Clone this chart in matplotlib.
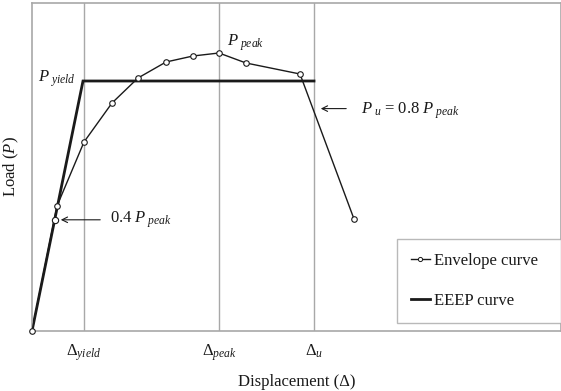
import numpy as np
import matplotlib.pyplot as plt
from matplotlib.lines import Line2D

plt.rcParams['font.family'] = ['Liberation Serif', 'DejaVu Serif']
plt.rcParams['mathtext.fontset'] = 'custom'
plt.rcParams['mathtext.rm'] = 'Liberation Serif'
plt.rcParams['mathtext.it'] = 'Liberation Serif:italic'

# Datos (unidades arbitrarias)
env_x = [0, 2.5, 5.2, 8.0, 10.6, 13.4, 16.1, 18.7, 21.4, 26.8, 32.2]
env_y = [0, 12.5, 18.9, 22.8, 25.3, 26.9, 27.5, 27.8, 26.8, 25.7, 11.2]

eeep_x = [0, 5.1, 28.2]
eeep_y = [0, 25.0, 25.0]

d_yield = 5.2
d_peak = 18.7
d_u = 28.2
p_peak = 27.8
p_yield = 25.0
p_u = 0.8 * p_peak
p_04 = 0.4 * p_peak
d_04 = 2.3

tick_pos = [d_yield, d_peak, d_u]
tick_labels = [r'$\Delta_{yield}$', r'$\Delta_{peak}$', r'$\Delta_u$']

ink = '#1a1a1a'
gris = '#a8a8a8'

fig = plt.figure(figsize=(5.61, 3.91), dpi=100)
ax = fig.add_axes([32 / 561, 60 / 391, 529 / 561, 328 / 391])

# Lineas verticales de referencia
for d in tick_pos:
    ax.axvline(d, color=gris, lw=1.0, zorder=1)

# Curvas
ax.plot(eeep_x, eeep_y, color=ink, lw=2.0, zorder=2, solid_joinstyle='miter')
ax.plot(env_x, env_y, color=ink, lw=1.0, marker='o', ms=4, mfc='white',
        mec=ink, mew=0.8, zorder=3, clip_on=False)
ax.plot([d_04], [p_04], ls='none', marker='o', ms=4.5, mfc='white', mec=ink,
        mew=0.8, zorder=4)

# Anotaciones
ax.text(4.4, p_yield + 0.2, r'$P_{\ yield}$', fontsize=12, ha='right', va='center', color=ink)
ax.text(19.5, 28.8, r'$P_{\ peak}$', fontsize=12, ha='left', va='center', color=ink)

ax.annotate('', xy=(d_04 + 0.3, p_04), xytext=(7.1, p_04),
            arrowprops=dict(arrowstyle='->', color=ink, lw=0.8))
ax.text(7.8, p_04, r'0.4 $P_{\ peak}$', fontsize=12, ha='left', va='center', color=ink)

ax.annotate('', xy=(28.6, p_u), xytext=(31.7, p_u),
            arrowprops=dict(arrowstyle='->', color=ink, lw=0.8))
ax.text(32.9, p_u - 0.2, r'$P_{\ u}$ = 0.8 $P_{\ peak}$', fontsize=12, ha='left', va='center', color=ink)

# Ejes
ax.set_xlim(0, 52.9)
ax.set_ylim(0, 32.8)
ax.set_xticks(tick_pos)
ax.set_xticklabels(tick_labels, fontsize=12, color=ink)
ax.set_yticks([])
ax.tick_params(axis='x', length=0, pad=8)
for s in ax.spines.values():
    s.set_color(gris)
    s.set_linewidth(1.2)
ax.set_xlabel('Displacement (Δ)', fontsize=12, color=ink, labelpad=8)
ax.set_ylabel('Load ($P$)', fontsize=12, color=ink, labelpad=8)

# Leyenda
handles = [Line2D([], [], color=ink, lw=1.0, marker='o', ms=3, mfc='white', mec=ink, mew=0.7),
           Line2D([], [], color=ink, lw=2.0)]
leg = ax.legend(handles, ['Envelope curve', 'EEEP curve'], loc='upper left',
                bbox_to_anchor=(0.69, 0.0, 0.4, 0.2805), mode='expand',
                borderaxespad=0, fancybox=False, frameon=True, fontsize=12,
                handlelength=1.1, handletextpad=0.25, labelspacing=1.45,
                borderpad=0.85, labelcolor=ink)
leg.get_frame().set_edgecolor(gris)
leg.get_frame().set_linewidth(1.0)

plt.savefig('out.png', dpi=100)
